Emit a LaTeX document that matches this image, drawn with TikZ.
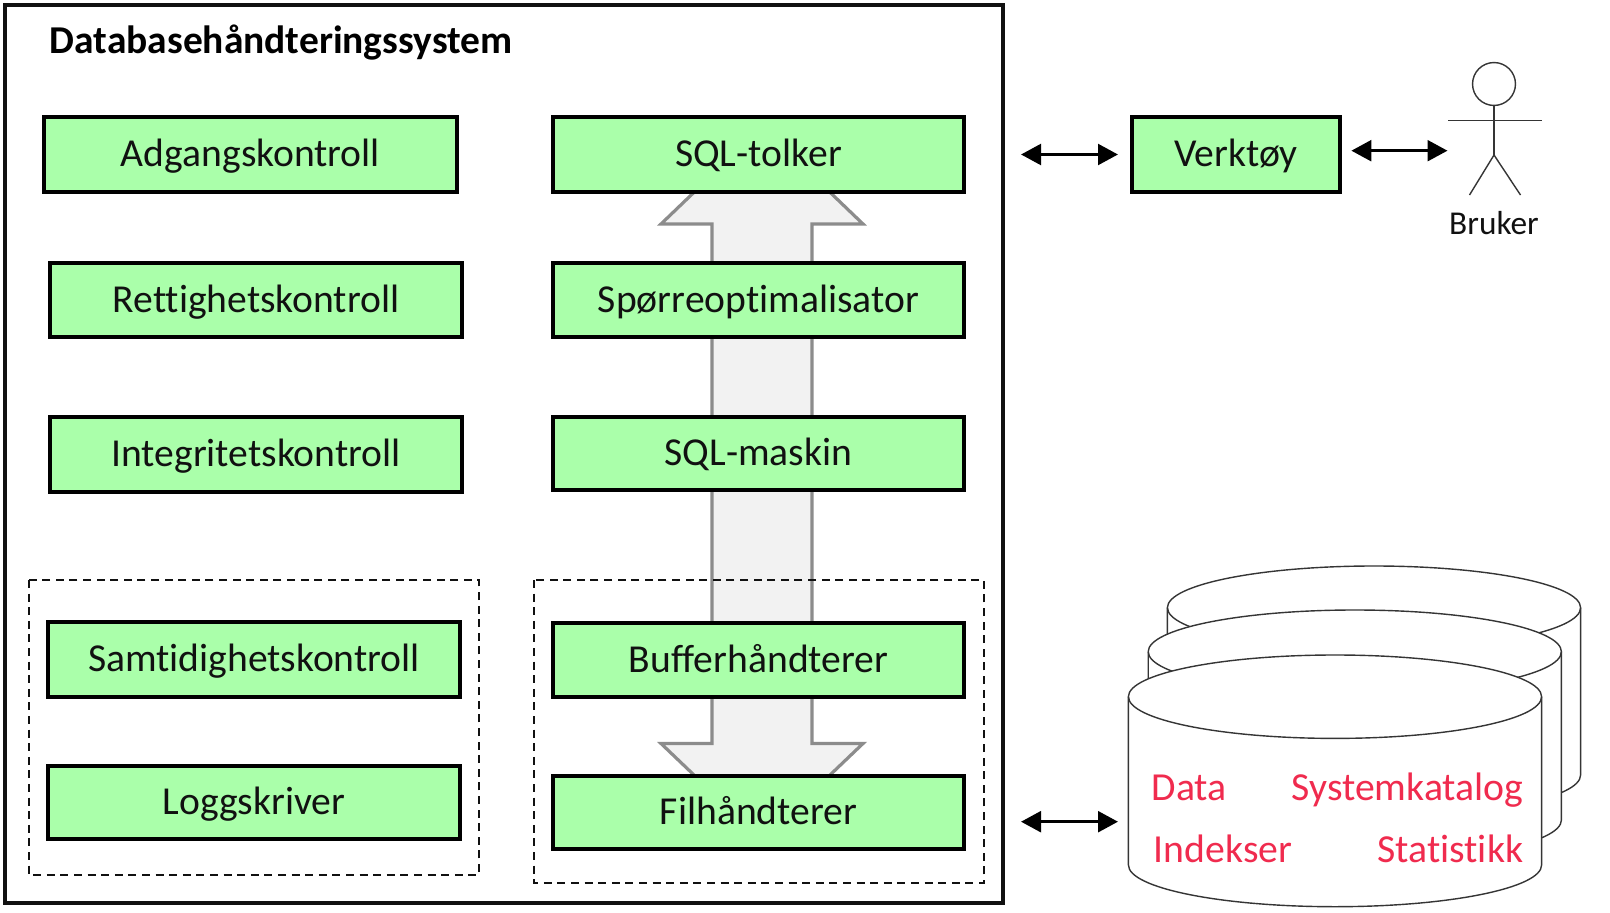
\documentclass[tikz,border=0pt]{standalone}
\usepackage{fontspec}
\setmainfont[Ligatures=CommonOff]{Carlito}
\usetikzlibrary{arrows.meta}
\definecolor{boxgreen}{HTML}{AAFFAA}
\definecolor{blockfill}{HTML}{F2F2F2}
\definecolor{blockline}{HTML}{8C8C8C}
\definecolor{storered}{HTML}{F02B4E}
\definecolor{inkblack}{HTML}{111111}
\tikzset{
  gbox/.style={draw=black,fill=boxgreen,line width=2.6pt,inner sep=0pt,outer sep=0pt,
    text=inkblack,font=\fontsize{29.7}{34}\selectfont,text height=20pt,text depth=2pt,align=center},
  framebox/.style={draw=inkblack,line width=3pt,inner sep=0pt,outer sep=0pt},
  dashbox/.style={draw=inkblack,line width=2pt,dash pattern=on 6pt off 4.2pt},
  dbl/.style={line width=2.5pt,{Triangle[length=15pt,width=15.5pt]}-{Triangle[length=15pt,width=15.5pt]}},
  blockarrow/.style={draw=blockline,fill=blockfill,line width=2.4pt,line join=miter},
  thinline/.style={draw=inkblack!85,line width=1.05pt},
  redtext/.style={text=storered,font=\fontsize{29.8}{34}\selectfont,inner sep=0pt},
  usertext/.style={text=inkblack,font=\fontsize{25}{30}\selectfont,inner sep=0pt},
  titletext/.style={text=black,font=\fontsize{29.6}{34}\selectfont\bfseries,inner sep=0pt}
}
% name, x1, y1, x2, y2, text
\newcommand\gb[6]{%
  \pgfmathsetmacro\gbw{(#4-#2)*0.75}\pgfmathsetmacro\gbh{(#5-#3)*0.75}%
  \node[gbox,minimum width=\gbw pt,minimum height=\gbh pt] (#1) at ({(#2+#4)/2},{(#3+#5)/2}) {#6};}
% cx, top-centre y, bottom-centre y
\newcommand\disk[3]{%
  \pgfmathsetmacro\xl{#1-206.6}\pgfmathsetmacro\xr{#1+206.6}%
  \pgfmathsetmacro\kx{206.6*0.5523}\pgfmathsetmacro\ky{41.7*0.5523}%
  \draw[thinline,fill=white] (\xl,#2) -- (\xl,#3)
    .. controls (\xl,#3+\ky) and (#1-\kx,#3+41.7) .. (#1,#3+41.7)
    .. controls (#1+\kx,#3+41.7) and (\xr,#3+\ky) .. (\xr,#3)
    -- (\xr,#2)
    .. controls (\xr,#2-\ky) and (#1+\kx,#2-41.7) .. (#1,#2-41.7)
    .. controls (#1-\kx,#2-41.7) and (\xl,#2-\ky) .. (\xl,#2) -- cycle;
  \draw[thinline] (\xl,#2)
    .. controls (\xl,#2+\ky) and (#1-\kx,#2+41.7) .. (#1,#2+41.7)
    .. controls (#1+\kx,#2+41.7) and (\xr,#2+\ky) .. (\xr,#2);}
\begin{document}
\begin{tikzpicture}[x=0.75pt,y=-0.75pt]
\useasboundingbox[fill=white] (0,0) rectangle (1610,913);
\node[framebox,minimum width=748.5pt,minimum height=673.5pt] (dbms) at (503.5,454) {};
\node[titletext,anchor=base west] (title) at (49.5,54) {Databasehåndteringssystem};
% block arrow behind the boxes
\draw[blockarrow] (762,127) -- (661,224) -- (712,224) -- (712,743.5) -- (661,743.5) -- (762,840)
  -- (863,743.5) -- (812,743.5) -- (812,224) -- (863,224) -- cycle;
\draw[dashbox] (29,580) rectangle (479,875);
\draw[dashbox] (534,580) rectangle (984,883);
\gb{adgang}{44}{117}{457}{192}{Adgangskontroll}
\gb{rettighet}{50}{263}{462}{337}{Rettighetskontroll}
\gb{integritet}{50}{417}{462}{492}{Integritetskontroll}
\gb{samtid}{48}{622}{460}{697}{Samtidighetskontroll}
\gb{logg}{48}{766}{460}{839}{Loggskriver}
\gb{tolker}{553}{117}{964}{192}{SQL-tolker}
\gb{optim}{553}{263}{964}{337}{Spørreoptimalisator}
\gb{maskin}{553}{417}{964}{490}{SQL-maskin}
\gb{buffer}{553}{623}{964}{697}{Bufferhåndterer}
\gb{fil}{553}{776}{964}{849}{Filhåndterer}
\gb{verktoy}{1132}{117}{1340}{192}{Verktøy}
% user
\node[draw=inkblack!85,line width=1.05pt,circle,minimum size=32.2pt,inner sep=0pt,outer sep=0pt] (head) at (1494,84) {};
\coordinate (hip) at (1494,155);
\coordinate (shoulderL) at (1448,120.5);
\coordinate (shoulderR) at (1541.5,120.5);
\coordinate (footL) at (1469.5,195);
\coordinate (footR) at (1520.5,195);
\draw[thinline] (head.south) -- (hip);
\draw[thinline] (shoulderL) -- (shoulderR);
\draw[thinline] (footL) -- (hip) -- (footR);
\node[usertext,anchor=base] (bruker) at (1494,234) {Bruker};
% storage
\disk{1374}{607.7}{775}
\disk{1354.8}{651.7}{820}
\disk{1335}{696.7}{865}
\node[redtext,anchor=base west] (data) at (1151.5,800) {Data};
\node[redtext,anchor=base east] (katalog) at (1523.5,800) {Systemkatalog};
\node[redtext,anchor=base west] (indeks) at (1153.5,862.5) {Indekser};
\node[redtext,anchor=base east] (stat) at (1523.5,862.5) {Statistikk};
\coordinate (storeleft) at (1118,821.7);
\coordinate (userleft) at (1447.5,150.7);
% connectors
\draw[dbl] (dbms.east |- verktoy.west) ++(18.5,0) -- ([xshift=-10.5pt]verktoy.west);
\draw[dbl] ([xshift=8.5pt,yshift=2.85pt]verktoy.east) -- (userleft);
\draw[dbl] (dbms.east |- storeleft) ++(18.5,0) -- (storeleft);
\end{tikzpicture}
\end{document}
